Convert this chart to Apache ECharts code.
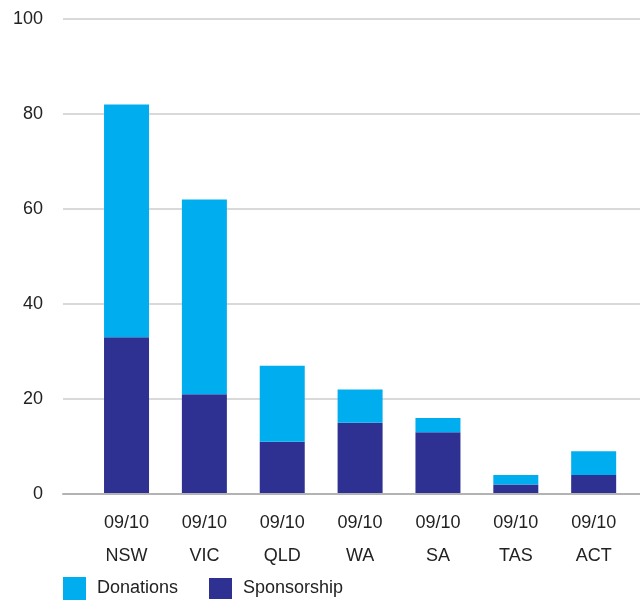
<!DOCTYPE html>
<html>
<head>
<meta charset="utf-8">
<script src="https://cdn.jsdelivr.net/npm/echarts@6/dist/echarts.min.js"></script>
<style>
  html,body{margin:0;padding:0;background:#fff;}
  #chart{width:640px;height:603px;}
</style>
</head>
<body>
<div id="chart"></div>
<script>
let states = ['NSW','VIC','QLD','WA','SA','TAS','ACT'];
let year = '09/10';
let sponsorship = [33,21,11,15,13,2,4];
let donations = [49,41,16,7,3,2,5];
let yTicks = [0,20,40,60,80,100];

const FONT = "'Liberation Sans',Arial,sans-serif";
const cDon = '#00aeef';
const cSpo = '#2e3192';

let chart = echarts.init(document.getElementById('chart'));
chart.setOption({
  animation:false,
  textStyle:{fontFamily:FONT},
  grid:[
    {left:63,right:0,top:19,bottom:109},
    {left:87.6,width:545,top:19,bottom:109}
  ],
  legend:[
    {
      data:['Donations'],
      left:63, top:577,
      icon:'rect', itemWidth:23, itemHeight:23, itemGap:0,
      textStyle:{fontFamily:FONT,fontSize:18,color:'#222',padding:[4,0,0,6]},
      padding:0
    },
    {
      data:['Sponsorship'],
      left:209, top:578,
      icon:'rect', itemWidth:23, itemHeight:21, itemGap:0,
      textStyle:{fontFamily:FONT,fontSize:18,color:'#222',padding:[10,0,0,6]},
      padding:0
    }
  ],
  xAxis:[
    {
      gridIndex:0, type:'value', min:0, max:1,
      axisLine:{show:true,lineStyle:{color:'#b3b3b3',width:2}},
      axisTick:{show:false}, axisLabel:{show:false}, splitLine:{show:false},
      z:5
    },
    {
      gridIndex:1, type:'category',
      data:states,
      axisLine:{show:false}, axisTick:{show:false},
      axisLabel:{
        margin:13,
        fontFamily:FONT, fontSize:18, color:'#222', lineHeight:33,
        formatter:(v)=> year + '\n' + v
      }
    }
  ],
  yAxis:[
    {
      gridIndex:0, type:'value', min:0, max:100, interval:20,
      axisLine:{show:false}, axisTick:{show:false},
      axisLabel:{margin:20,fontFamily:FONT,fontSize:18,color:'#222'},
      splitLine:{lineStyle:{color:'#cccccc',width:1.5}}
    },
    {
      gridIndex:1, type:'value', min:0, max:100, show:false
    }
  ],
  series:[
    {
      name:'Sponsorship', type:'bar', stack:'t',
      xAxisIndex:1, yAxisIndex:1,
      barWidth:45,
      itemStyle:{color:cSpo},
      data:sponsorship
    },
    {
      name:'Donations', type:'bar', stack:'t',
      xAxisIndex:1, yAxisIndex:1,
      barWidth:45,
      itemStyle:{color:cDon},
      data:donations
    }
  ]
});
</script>
</body>
</html>
